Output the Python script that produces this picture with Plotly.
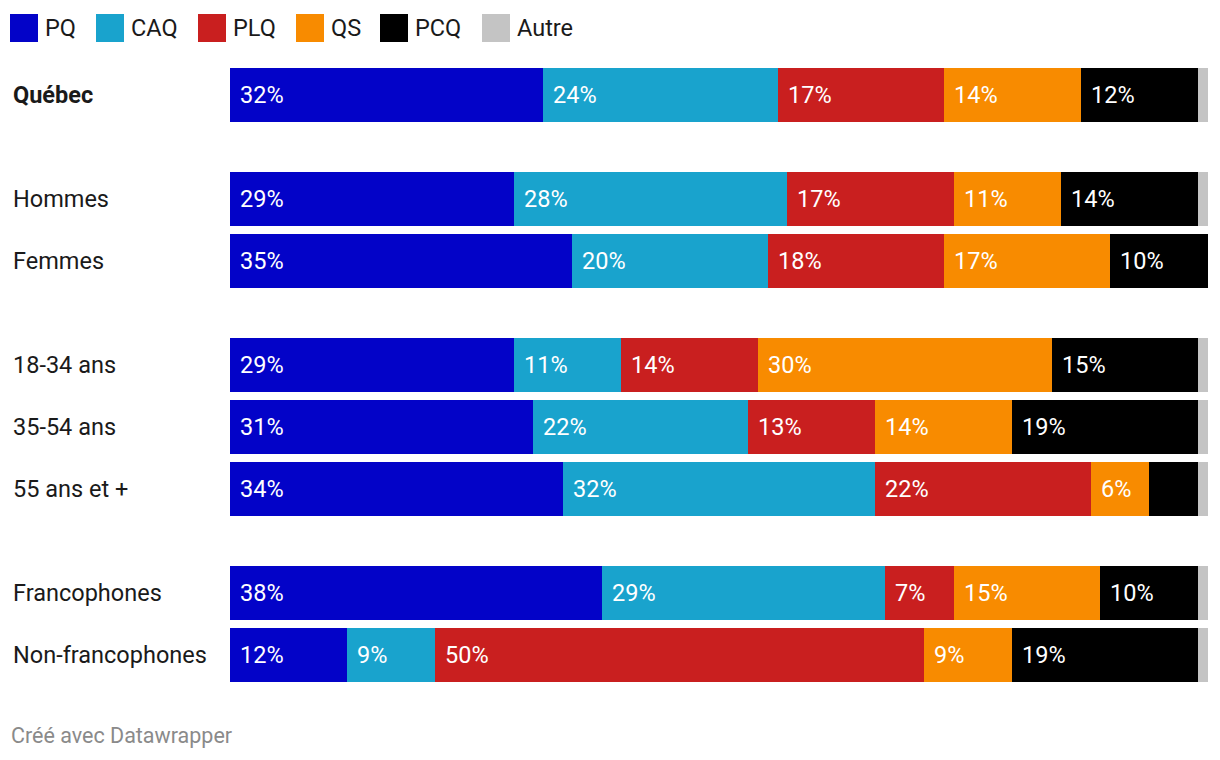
import plotly.graph_objects as go

# ---------------- data ----------------
groups = [
    ["Québec"],
    ["Hommes", "Femmes"],
    ["18-34 ans", "35-54 ans", "55 ans et +"],
    ["Francophones", "Non-francophones"],
]
parties = ["PQ", "CAQ", "PLQ", "QS", "PCQ", "Autre"]
colors = ["#0303c8", "#19a3cd", "#c91f1f", "#f88b00", "#000000", "#c4c4c4"]

pq    = [32, 29, 35, 29, 31, 34, 38, 12]
caq   = [24, 28, 20, 11, 22, 32, 29, 9]
plq   = [17, 17, 18, 14, 13, 22, 7, 50]
qs    = [14, 11, 17, 30, 14, 6, 15, 9]
pcq   = [12, 14, 10, 15, 19, 5, 10, 19]
autre = [1, 1, 0, 1, 1, 1, 1, 1]
series = [pq, caq, plq, qs, pcq, autre]

# ---------------- layout helpers ----------------
OFF = 8  # page body margin
W, H = 1220 - OFF, 760 - OFF
L, R, T, B = 230 - OFF, 12, 68 - OFF, 78
PW, PH = W - L - R, H - T - B
ROW = 62.0
BAR = 54.0
GAP = 42.0 / ROW

cats, ypos = [], []
y = 0.0
for gi, g in enumerate(groups):
    if gi > 0:
        y += GAP
    for c in g:
        cats.append(c)
        ypos.append(y)
        y += 1
bw = BAR / ROW

def px_x(p):
    return (p - OFF - L) / PW

def px_y(p):
    return (H - B - (p - OFF)) / PH

FONT = "Roboto, Arial, sans-serif"
TXT = 23.5

fig = go.Figure()
for name, col, vals in zip(parties, colors, series):
    fig.add_trace(go.Bar(
        name=name, x=vals, y=ypos, orientation="h", width=bw,
        marker=dict(color=col, line=dict(width=0)),
        hoverinfo="x+name", showlegend=False,
    ))

annotations = []
# value labels
for i, yy in enumerate(ypos):
    base = 0
    for vals in series:
        v = vals[i]
        if v >= 6:
            annotations.append(dict(
                x=base, y=yy, xref="x", yref="y", text=f"{v}%",
                showarrow=False, xanchor="left", yanchor="middle", xshift=8,
                font=dict(family=FONT, size=TXT, color="#ffffff"),
            ))
        base += v

# row labels
for c, yy in zip(cats, ypos):
    txt = f"<b>{c}</b>" if c == "Québec" else c
    annotations.append(dict(
        x=px_x(11), y=yy, xref="paper", yref="y", text=txt, showarrow=False,
        xanchor="left", yanchor="middle",
        font=dict(family=FONT, size=TXT, color="#1a1a1a"),
    ))

# custom legend
shapes = []
leg_sq = [10, 96, 198, 296, 380, 482]
for name, col, x0 in zip(parties, colors, leg_sq):
    shapes.append(dict(
        type="rect", xref="paper", yref="paper",
        x0=px_x(x0), x1=px_x(x0 + 28), y0=px_y(42), y1=px_y(14),
        fillcolor=col, line=dict(width=0),
    ))
    annotations.append(dict(
        x=px_x(x0 + 33), y=px_y(28), xref="paper", yref="paper", text=name,
        showarrow=False, xanchor="left", yanchor="middle",
        font=dict(family=FONT, size=TXT, color="#1a1a1a"),
    ))

# footer
annotations.append(dict(
    x=px_x(9), y=px_y(735), xref="paper", yref="paper",
    text="Créé avec Datawrapper", showarrow=False, xanchor="left", yanchor="middle",
    font=dict(family=FONT, size=21.5, color="#8a8a8a"),
))

fig.update_layout(
    width=W, height=H, barmode="stack", bargap=0,
    margin=dict(l=L, r=R, t=T, b=B, pad=0),
    paper_bgcolor="#ffffff", plot_bgcolor="#ffffff",
    xaxis=dict(range=[0, 100], visible=False, fixedrange=True),
    yaxis=dict(range=[ypos[-1] + bw / 2, ypos[0] - bw / 2], visible=False, fixedrange=True),
    annotations=annotations, shapes=shapes,
    font=dict(family=FONT),
)

fig.write_html("out.html")
